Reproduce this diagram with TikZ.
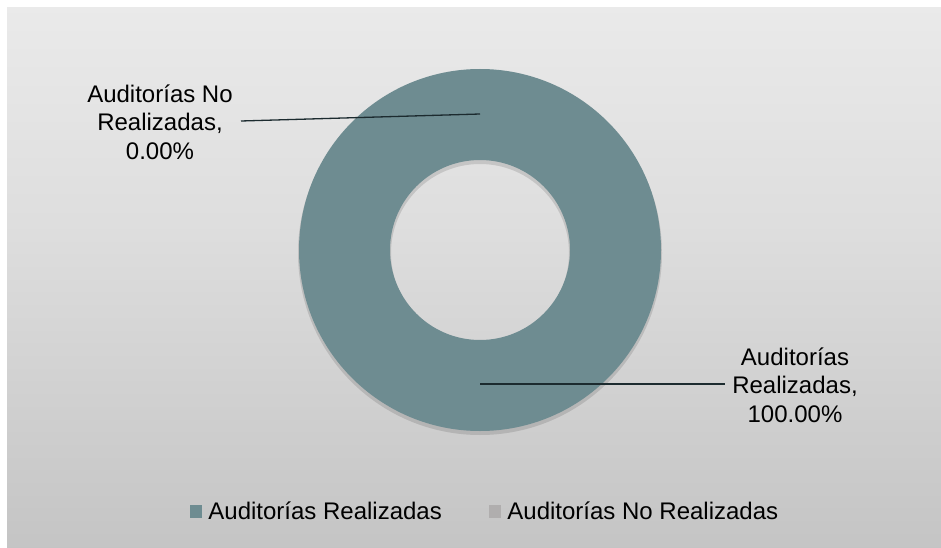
\documentclass[tikz,border=0pt]{standalone}
\usepackage{fontspec}
\setmainfont{Liberation Sans}
\usepackage{tikz}
\usetikzlibrary{positioning}

\definecolor{ringteal}{HTML}{6E8C91}
\definecolor{ringgray}{HTML}{B0AEAE}
\definecolor{leadline}{HTML}{1C2B2F}

\pgfdeclareverticalshading{chartbg}{100bp}{
  color(0bp)=(black!17); color(25bp)=(black!23); color(55bp)=(black!13);
  color(85bp)=(black!6); color(100bp)=(black!4)}

\tikzset{
  lbl/.style={align=center, font=\fontsize{24}{28.5}\selectfont, inner sep=0pt},
  legtext/.style={anchor=west, font=\fontsize{24}{28}\selectfont, inner sep=0pt},
  legbox/.style={minimum width=12pt, minimum height=13pt, inner sep=0pt}
}

\begin{document}
\begin{tikzpicture}[x=1pt,y=-1pt]
	\useasboundingbox (0,0) rectangle (941,548);
	\shade[shading=chartbg] (7,8) rectangle (941,548);

	% ring
	\coordinate (ctr) at (480,250);
	\fill[black, opacity=0.12, even odd rule] (480,253) circle[radius=182pt] (480,253) circle[radius=89pt];
	\fill[ringteal, even odd rule] (ctr) circle[radius=181pt] (ctr) circle[radius=90pt];

	% data labels
	\node[lbl] (nolbl) at (160,122) {Auditorías No\\Realizadas,\\0.00\%};
	\node[lbl] (silbl) at (795,385) {Auditorías\\Realizadas,\\100.00\%};
	\coordinate (notip) at (480,114);
	\coordinate (noend) at (241,121);
	\coordinate (sitip) at (480,384);
	\coordinate (siend) at (725,384);
	\draw[leadline, line width=1.3pt] (noend) -- (notip);
	\draw[leadline, line width=1.3pt] (sitip) -- (siend);

	% legend
	\node[legbox, fill=ringteal] (sqone) at (196,511) {};
	\node[legtext, right=6pt of sqone] (legone) {Auditorías Realizadas};
	\node[legbox, fill=ringgray] (sqtwo) at (495,511) {};
	\node[legtext, right=6pt of sqtwo] (legtwo) {Auditorías No Realizadas};
\end{tikzpicture}
\end{document}
